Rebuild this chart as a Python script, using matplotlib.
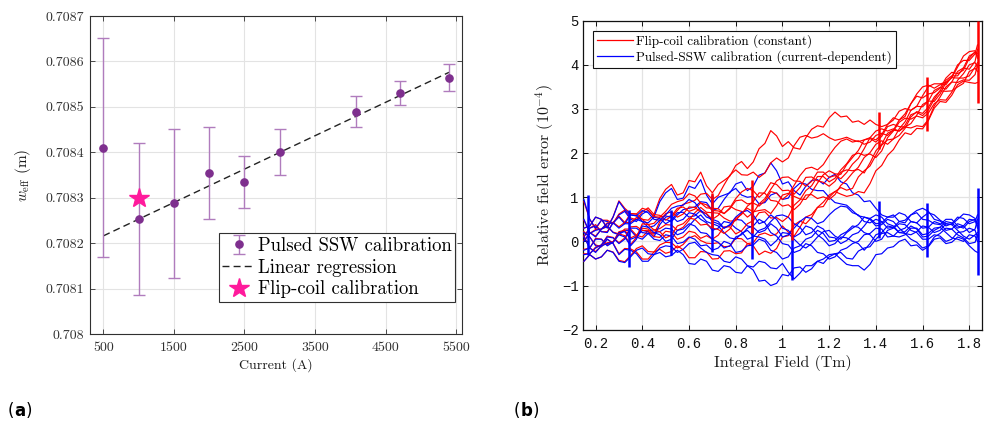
import numpy as np
import matplotlib
matplotlib.use('Agg')
import matplotlib.pyplot as plt
from matplotlib.lines import Line2D
from matplotlib.offsetbox import TextArea, HPacker, AnchoredOffsetbox

plt.rcParams['mathtext.fontset'] = 'cm'
plt.rcParams['axes.unicode_minus'] = True

# ---------------- panel (a) data ----------------
current = [500, 1000, 1500, 2000, 2500, 3000, 4075, 4700, 5400]
w_eff = [0.708410, 0.708253, 0.708288, 0.708355, 0.708335, 0.708401, 0.708489, 0.708530, 0.708564]
w_hi = [0.708651, 0.708420, 0.708451, 0.708456, 0.708392, 0.708452, 0.708523, 0.708556, 0.708595]
w_lo = [0.708170, 0.708086, 0.708124, 0.708253, 0.708277, 0.708350, 0.708455, 0.708504, 0.708534]
reg_current = [500, 5400]
reg_w = [0.708216, 0.708576]
flip_current = [1000]
flip_w = [0.70830]
a_xticks = [500, 1500, 2500, 3500, 4500, 5500]
a_yticks = [0.708, 0.7081, 0.7082, 0.7083, 0.7084, 0.7085, 0.7086, 0.7087]
a_yticklabels = ['0.708', '0.7081', '0.7082', '0.7083', '0.7084', '0.7085', '0.7086', '0.7087']

# ---------------- panel (b) data ----------------
field = [0.150, 0.175, 0.200, 0.225, 0.250, 0.275, 0.300, 0.325, 0.350, 0.375,
         0.400, 0.425, 0.450, 0.475, 0.500, 0.525, 0.550, 0.575, 0.600, 0.625,
         0.650, 0.675, 0.700, 0.725, 0.750, 0.775, 0.800, 0.825, 0.850, 0.875,
         0.900, 0.925, 0.950, 0.975, 1.000, 1.025, 1.050, 1.075, 1.100, 1.125,
         1.150, 1.175, 1.200, 1.225, 1.250, 1.275, 1.300, 1.325, 1.350, 1.375,
         1.400, 1.425, 1.450, 1.475, 1.500, 1.525, 1.550, 1.575, 1.600, 1.625,
         1.650, 1.675, 1.700, 1.725, 1.750, 1.775, 1.800, 1.825, 1.835]

blue_1 = [0.95,0.50, 0.30,0.48, 0.45,0.40, 0.60,0.68, 0.50,0.45, 0.62,0.70, 0.55,0.90, 1.10,1.20, 0.95,0.98, 1.25,1.20, 1.40,1.05, 0.85,1.00, 1.05,1.10, 1.30,1.35, 1.15,1.25, 1.50,1.55, 1.78,1.60, 1.30,1.35, 1.15,1.05, 1.25,1.38, 1.40,1.30, 1.45,1.52, 1.35,1.30, 1.10,1.05, 0.90,0.92, 0.75,0.60, 0.55,0.60, 0.45,0.42, 0.60,0.65, 0.50,0.48, 0.40,0.38, 0.50,0.50, 0.35,0.30, 0.45,0.50, 0.30]
blue_2 = [0.10,0.30, 0.35,0.22, 0.20,0.42, 0.55,0.40, 0.40,0.50, 0.45,0.32, 0.35,0.48, 0.50,0.45, 0.60,0.72, 0.75,0.78, 0.90,0.88, 0.70,0.75, 0.95,1.12, 1.20,1.05, 1.00,1.02, 0.85,0.88, 1.05,1.10, 0.95,0.98, 1.20,1.32, 1.30,1.18, 1.15,1.15, 1.00,0.88, 0.85,0.82, 0.70,0.58, 0.55,0.52, 0.40,0.42, 0.55,0.55, 0.65,0.60, 0.45,0.42, 0.55,0.65, 0.60,0.48, 0.40,0.38, 0.50,0.62, 0.60,0.52, 0.40]
blue_3 = [0.20,0.10, -0.10,-0.12, 0.05,-0.05, -0.30,-0.18, -0.20,-0.28, -0.45,-0.45, -0.30,-0.25, -0.35,-0.32, -0.20,-0.30, -0.50,-0.52, -0.40,-0.45, -0.65,-0.68, -0.55,-0.58, -0.70,-0.72, -0.55,-0.65, -0.90,-0.88, -1.00,-0.95, -0.75,-0.78, -0.60,-0.58, -0.70,-0.62, -0.45,-0.50, -0.35,-0.28, -0.25,-0.38, -0.40,-0.22, -0.15,-0.12, 0.05,0.18, 0.20,0.12, 0.10,0.15, 0.30,0.30, 0.15,0.18, 0.30,0.32, 0.20,0.08, 0.05,0.00, 0.15,0.12, 0.00]
blue_4 = [-0.45,-0.30, -0.40,-0.35, -0.20,-0.25, -0.45,-0.48, -0.35,-0.20, -0.15,-0.28, -0.30,-0.15, -0.10,-0.12, -0.25,-0.18, -0.05,-0.02, -0.15,-0.25, -0.30,-0.32, -0.45,-0.48, -0.35,-0.40, -0.55,-0.58, -0.45,-0.48, -0.60,-0.62, -0.50,-0.70, -0.85,-0.72, -0.55,-0.55, -0.45,-0.40, -0.30,-0.28, -0.40,-0.52, -0.55,-0.55, -0.65,-0.52, -0.30,-0.28, -0.15,-0.12, 0.00,0.05, -0.10,-0.08, -0.20,-0.12, 0.05,0.08, -0.05,-0.02, 0.10,0.05, -0.10,-0.22, -0.25]
blue_5 = [0.00,0.18, 0.25,0.28, 0.40,0.42, 0.30,0.40, 0.60,0.58, 0.45,0.42, 0.55,0.52, 0.40,0.48, 0.65,0.66, 0.55,0.58, 0.70,0.62, 0.45,0.40, 0.30,0.36, 0.50,0.48, 0.35,0.32, 0.20,0.25, 0.40,0.30, 0.10,0.15, 0.30,0.45, 0.55,0.52, 0.40,0.45, 0.60,0.72, 0.80,0.78, 0.65,0.60, 0.45,0.42, 0.50,0.45, 0.30,0.32, 0.45,0.48, 0.60,0.70, 0.75,0.68, 0.50,0.46, 0.35,0.40, 0.55,0.52, 0.40,0.45, 0.60]
blue_6 = [0.50,0.20, 0.10,0.28, 0.35,0.20, 0.15,0.25, 0.25,0.10, 0.05,0.18, 0.20,0.22, 0.30,0.28, 0.15,0.20, 0.35,0.50, 0.60,0.45, 0.40,0.35, 0.20,0.08, 0.05,0.18, 0.25,0.12, 0.10,0.05, -0.10,0.02, 0.20,0.18, 0.05,-0.08, -0.15,-0.05, 0.10,0.22, 0.25,0.12, 0.05,0.20, 0.30,0.38, 0.55,0.50, 0.35,0.38, 0.50,0.45, 0.30,0.18, 0.15,0.22, 0.35,0.32, 0.20,0.25, 0.40,0.38, 0.25,0.12, 0.05,0.15, 0.20]
blue_7 = [-0.20,-0.15, 0.05,0.05, -0.10,-0.02, 0.20,0.22, 0.05,0.10, 0.25,0.22, 0.10,0.38, 0.55,0.58, 0.45,0.50, 0.65,0.62, 0.50,0.42, 0.25,0.30, 0.45,0.42, 0.30,0.22, 0.05,0.10, 0.25,0.30, 0.45,0.58, 0.60,0.55, 0.40,0.32, 0.15,0.20, 0.35,0.28, 0.10,0.08, -0.05,0.02, 0.15,0.20, 0.35,0.52, 0.60,0.55, 0.40,0.35, 0.20,0.22, 0.35,0.28, 0.10,0.12, 0.25,0.32, 0.45,0.42, 0.30,0.35, 0.50,0.48, 0.35]
blue_8 = [-0.30,-0.28, -0.15,-0.08, 0.10,0.08, -0.05,0.05, 0.30,0.30, 0.20,0.18, 0.05,0.02, 0.15,0.12, -0.05,-0.02, 0.10,0.05, -0.10,-0.08, -0.20,-0.15, 0.00,-0.05, -0.25,-0.22, -0.10,-0.08, 0.05,0.00, -0.20,-0.25, -0.40,-0.35, -0.15,-0.10, 0.05,0.10, 0.25,0.18, 0.00,0.02, 0.15,0.22, 0.35,0.32, 0.20,0.15, 0.00,0.05, 0.25,0.30, 0.40,0.38, 0.25,0.20, 0.05,0.05, 0.15,0.12, 0.00,0.05, 0.20,0.22, 0.30,0.25, 0.10]
blue_9 = [0.30,0.35, 0.55,0.50, 0.30,0.55, 0.90,0.72, 0.60,0.58, 0.70,0.65, 0.50,0.48, 0.60,0.75, 0.80,0.82, 0.95,0.88, 0.70,0.55, 0.50,0.45, 0.30,0.38, 0.55,0.66, 0.70,0.60, 0.40,0.45, 0.60,0.50, 0.30,0.25, 0.10,0.18, 0.35,0.30, 0.15,0.05, -0.10,-0.05, 0.10,0.08, 0.00,-0.05, -0.20,-0.05, 0.15,0.20, 0.35,0.32, 0.20,0.18, 0.05,-0.02, -0.15,-0.10, 0.10,0.18, 0.30,0.28, 0.15,0.08, -0.05,-0.02, 0.15]
blue_10 = [0.10,-0.15, -0.25,-0.10, -0.05,-0.02, 0.15,0.10, -0.10,0.05, 0.35,0.32, 0.20,0.15, 0.00,0.05, 0.25,0.28, 0.40,0.35, 0.20,0.18, 0.05,-0.02, -0.15,-0.10, 0.10,0.15, 0.30,0.35, 0.50,0.42, 0.20,0.12, -0.05,-0.08, -0.25,-0.20, -0.05,-0.10, -0.25,-0.28, -0.40,-0.35, -0.20,-0.15, -0.05,0.00, 0.15,0.18, 0.30,0.28, 0.10,0.12, 0.25,0.30, 0.45,0.42, 0.30,0.32, 0.45,0.40, 0.25,0.28, 0.40,0.35, 0.20,0.28, 0.50]

red_1 = [0.90,0.50, 0.28,0.48, 0.48,0.41, 0.62,0.71, 0.53,0.49, 0.67,0.76, 0.61,0.97, 1.18,1.29, 1.05,1.10, 1.38,1.35, 1.57,1.26, 1.10,1.29, 1.38,1.48, 1.72,1.81, 1.65,1.80, 2.10,2.22, 2.51,2.39, 2.15,2.26, 2.12,2.09, 2.35,2.54, 2.62,2.59, 2.80,2.93, 2.82,2.84, 2.70,2.73, 2.65,2.75, 2.65,2.60, 2.65,2.80, 2.75,2.83, 3.12,3.29, 3.25,3.34, 3.37,3.47, 3.70,3.83, 3.80,3.88, 4.15,4.30, 4.15]
red_2 = [0.12,0.30, 0.38,0.22, 0.22,0.43, 0.57,0.43, 0.43,0.54, 0.50,0.38, 0.41,0.55, 0.58,0.54, 0.70,0.84, 0.88,0.93, 1.07,1.09, 0.95,1.04, 1.28,1.50, 1.62,1.51, 1.50,1.57, 1.45,1.55, 1.78,1.89, 1.80,1.89, 2.17,2.36, 2.40,2.34, 2.37,2.44, 2.35,2.29, 2.32,2.36, 2.30,2.26, 2.30,2.35, 2.30,2.42, 2.65,2.75, 2.95,3.01, 2.97,3.06, 3.30,3.51, 3.57,3.57, 3.60,3.71, 3.95,4.20, 4.30,4.32, 4.25]
red_3 = [0.22,0.10, -0.08,-0.12, 0.05,-0.04, -0.28,-0.16, -0.17,-0.24, -0.40,-0.40, -0.24,-0.18, -0.27,-0.23, -0.10,-0.19, -0.37,-0.37, -0.23,-0.24, -0.40,-0.39, -0.22,-0.21, -0.28,-0.26, -0.05,-0.10, -0.30,-0.22, -0.27,-0.16, 0.10,0.13, 0.37,0.46, 0.40,0.54, 0.77,0.79, 1.00,1.13, 1.22,1.16, 1.20,1.46, 1.60,1.71, 1.95,2.18, 2.30,2.32, 2.40,2.56, 2.82,2.94, 2.90,3.04, 3.27,3.41, 3.40,3.41, 3.50,3.58, 3.85,3.92, 3.85]
red_4 = [-0.45,-0.30, -0.40,-0.35, -0.20,-0.24, -0.43,-0.46, -0.32,-0.16, -0.10,-0.23, -0.24,-0.08, -0.02,-0.03, -0.15,-0.07, 0.08,0.13, 0.02,-0.04, -0.05,-0.03, -0.12,-0.11, 0.07,0.06, -0.05,-0.03, 0.15,0.19, 0.13,0.17, 0.35,0.21, 0.12,0.32, 0.55,0.61, 0.77,0.89, 1.05,1.13, 1.07,1.02, 1.05,1.13, 1.10,1.31, 1.60,1.72, 1.95,2.08, 2.30,2.46, 2.42,2.56, 2.55,2.74, 3.02,3.17, 3.15,3.31, 3.55,3.63, 3.60,3.58, 3.60]
red_5 = [0.02,0.18, 0.27,0.28, 0.42,0.43, 0.33,0.43, 0.63,0.62, 0.50,0.48, 0.61,0.59, 0.48,0.57, 0.75,0.78, 0.68,0.73, 0.87,0.83, 0.70,0.69, 0.63,0.74, 0.92,0.94, 0.85,0.87, 0.80,0.92, 1.13,1.09, 0.95,1.06, 1.27,1.49, 1.65,1.68, 1.62,1.74, 1.95,2.13, 2.27,2.32, 2.25,2.28, 2.20,2.25, 2.40,2.45, 2.40,2.52, 2.75,2.89, 3.12,3.34, 3.50,3.54, 3.47,3.55, 3.55,3.73, 4.00,4.10, 4.10,4.25, 4.45]
red_6 = [0.48,0.20, 0.12,0.28, 0.33,0.21, 0.17,0.28, 0.28,0.14, 0.10,0.24, 0.26,0.29, 0.38,0.37, 0.25,0.32, 0.48,0.65, 0.77,0.66, 0.65,0.64, 0.53,0.46, 0.47,0.64, 0.75,0.67, 0.70,0.72, 0.63,0.81, 1.05,1.09, 1.02,0.96, 0.95,1.11, 1.32,1.51, 1.60,1.53, 1.52,1.74, 1.90,2.06, 2.30,2.33, 2.25,2.38, 2.60,2.65, 2.60,2.59, 2.67,2.86, 3.10,3.18, 3.17,3.34, 3.60,3.71, 3.70,3.70, 3.75,3.95, 4.05]
red_7 = [-0.18,-0.15, 0.07,0.05, -0.08,-0.01, 0.22,0.25, 0.08,0.14, 0.30,0.28, 0.16,0.45, 0.63,0.67, 0.55,0.62, 0.78,0.77, 0.67,0.63, 0.50,0.59, 0.78,0.80, 0.72,0.68, 0.55,0.65, 0.85,0.97, 1.18,1.37, 1.45,1.46, 1.37,1.36, 1.25,1.36, 1.57,1.57, 1.45,1.49, 1.42,1.56, 1.75,1.88, 2.10,2.35, 2.50,2.55, 2.50,2.55, 2.50,2.63, 2.87,2.92, 2.85,2.98, 3.22,3.41, 3.65,3.75, 3.75,3.93, 4.20,4.28, 4.20]
red_8 = [-0.28,-0.28, -0.13,-0.08, 0.12,0.09, -0.03,0.08, 0.33,0.34, 0.25,0.24, 0.11,0.09, 0.23,0.21, 0.05,0.10, 0.23,0.20, 0.07,0.13, 0.05,0.14, 0.33,0.33, 0.17,0.24, 0.40,0.47, 0.65,0.67, 0.53,0.54, 0.45,0.56, 0.82,0.94, 1.15,1.26, 1.47,1.47, 1.35,1.43, 1.62,1.76, 1.95,2.00, 1.95,1.98, 1.90,2.05, 2.35,2.50, 2.70,2.79, 2.77,2.84, 2.80,2.91, 3.12,3.21, 3.20,3.38, 3.65,3.80, 4.00,4.05, 3.95]
red_9 = [0.30,0.35, 0.55,0.50, 0.32,0.56, 0.92,0.75, 0.63,0.62, 0.75,0.71, 0.56,0.55, 0.68,0.84, 0.90,0.94, 1.08,1.03, 0.87,0.76, 0.75,0.74, 0.63,0.76, 0.97,1.12, 1.20,1.15, 1.00,1.12, 1.33,1.29, 1.15,1.16, 1.07,1.22, 1.45,1.46, 1.37,1.34, 1.25,1.36, 1.57,1.62, 1.60,1.63, 1.55,1.78, 2.05,2.20, 2.45,2.52, 2.50,2.59, 2.57,2.62, 2.60,2.76, 3.07,3.27, 3.50,3.61, 3.60,3.66, 3.65,3.78, 4.00]
red_10 = [0.12,-0.15, -0.23,-0.10, -0.03,-0.01, 0.17,0.13, -0.07,0.09, 0.40,0.38, 0.26,0.22, 0.08,0.14, 0.35,0.40, 0.53,0.50, 0.37,0.39, 0.30,0.27, 0.18,0.28, 0.52,0.61, 0.80,0.90, 1.10,1.09, 0.93,0.91, 0.80,0.83, 0.72,0.84, 1.05,1.06, 0.97,1.01, 0.95,1.06, 1.27,1.39, 1.55,1.68, 1.90,2.01, 2.20,2.28, 2.20,2.32, 2.55,2.71, 2.97,3.06, 3.05,3.18, 3.42,3.49, 3.45,3.61, 3.85,3.93, 3.90,4.08, 4.35]

blue_curves = [blue_1, blue_2, blue_3, blue_4, blue_5, blue_6, blue_7, blue_8, blue_9, blue_10]
red_curves = [red_1, red_2, red_3, red_4, red_5, red_6, red_7, red_8, red_9, red_10]

# step transients (vertical spikes)
blue_spike_x = [0.167, 0.344, 0.521, 0.697, 0.868, 1.042, 1.413, 1.617, 1.836]
blue_spike_lo = [-0.30, -0.59, -0.31, -0.23, -0.39, -0.88, 0.07, -0.35, -0.76]
blue_spike_hi = [1.05, 0.71, 0.71, 1.05, 0.65, 0.14, 0.92, 0.87, 1.20]
red_spike_x = [0.697, 0.868, 1.042, 1.413, 1.617, 1.836]
red_spike_lo = [0.30, 0.19, 0.04, 2.10, 2.49, 3.13]
red_spike_hi = [1.10, 1.40, 1.20, 2.94, 3.73, 5.00]

b_xticks = [0.2, 0.4, 0.6, 0.8, 1.0, 1.2, 1.4, 1.6, 1.8]
b_xticklabels = ['0.2', '0.4', '0.6', '0.8', '1', '1.2', '1.4', '1.6', '1.8']
b_yticks = [-2, -1, 0, 1, 2, 3, 4, 5]
b_yticklabels = ['\u22122', '\u22121', '0', '1', '2', '3', '4', '5']

# ---------------- figure ----------------
fig = plt.figure(figsize=(9.95, 4.23), dpi=100)
SERIF = 'cmr10'
MONO = 'Liberation Mono'
TICKC = '#404040'
LABC = '#1a1a1a'
GRIDC = '#e3e3e3'

# ----- panel (a)
ax1 = fig.add_axes([0.0905, 0.2104, 0.3739, 0.7518])
ax1.set_xlim(311, 5585)
ax1.set_ylim(0.708, 0.7087)
ax1.set_xticks(a_xticks)
ax1.set_xticklabels([str(t) for t in a_xticks], fontfamily=SERIF, fontsize=10, color=TICKC)
ax1.set_yticks(a_yticks)
ax1.set_yticklabels(a_yticklabels, fontfamily=SERIF, fontsize=10, color=TICKC)
ax1.grid(True, color=GRIDC, linewidth=0.8)
ax1.set_axisbelow(True)
ax1.tick_params(direction='in', length=3.5, width=0.6, top=True, right=True, colors='#303030')
ax1.tick_params(axis='x', pad=6)
ax1.tick_params(axis='y', pad=4)
for s in ax1.spines.values():
    s.set_color('#303030')
    s.set_linewidth(0.8)

yerr = [np.array(w_eff) - np.array(w_lo), np.array(w_hi) - np.array(w_eff)]
eb = ax1.errorbar(current, w_eff, yerr=yerr, fmt='o', color='#7E2F8E', ms=5.2,
                  ecolor='#b07cbd', elinewidth=1.0, capsize=4, capthick=1.0,
                  label='Pulsed SSW calibration', zorder=3)
reg, = ax1.plot(reg_current, reg_w, linestyle=(0, (5, 3)), color='#222222', lw=1.0,
                label='Linear regression', zorder=2)
star, = ax1.plot(flip_current, flip_w, linestyle='none', marker='*', color='#ff1a9c',
                 ms=15, label='Flip-coil calibration', zorder=4)
leg1 = ax1.legend(handles=[eb, reg, star], loc='lower right', bbox_to_anchor=(0.982, 0.10),
                  borderaxespad=0, prop={'family': SERIF, 'size': 13.5}, fancybox=False,
                  framealpha=1, edgecolor='#303030', handlelength=1.75, handletextpad=0.15,
                  borderpad=0.2, labelspacing=0.2)
leg1.get_frame().set_linewidth(0.8)
ax1.set_xlabel('Current (A)', fontfamily=SERIF, fontsize=10, color=LABC, labelpad=3)
ax1.set_ylabel(r'$w_{\mathrm{eff}}$ (m)', fontfamily=SERIF, fontsize=11, color=LABC, labelpad=9)

# ----- panel (b)
ax2 = fig.add_axes([0.5859, 0.2206, 0.4007, 0.7305])
for r, b in zip(red_curves, blue_curves):
    ax2.plot(field, r, color='#ff0000', lw=0.85, zorder=3)
    ax2.plot(field, b, color='#0000ff', lw=0.85, zorder=3)
ax2.vlines(blue_spike_x, blue_spike_lo, blue_spike_hi, colors='#0000ff', lw=1.8, zorder=4)
ax2.vlines(red_spike_x, red_spike_lo, red_spike_hi, colors='#ff0000', lw=1.8, zorder=4)
ax2.set_xlim(0.146, 1.853)
ax2.set_ylim(-2, 5)
ax2.set_xticks(b_xticks)
ax2.set_xticklabels(b_xticklabels, fontfamily=MONO, fontsize=10, color='#555555')
ax2.set_yticks(b_yticks)
ax2.set_yticklabels(b_yticklabels, fontfamily=MONO, fontsize=10, color='#555555')
ax2.grid(True, color=GRIDC, linewidth=0.9)
ax2.set_axisbelow(True)
ax2.tick_params(direction='in', length=3.5, width=0.7, top=True, right=True, colors='#111111')
ax2.tick_params(axis='x', pad=5)
ax2.tick_params(axis='y', pad=3)
for s in ax2.spines.values():
    s.set_color('#111111')
    s.set_linewidth(0.9)
handles2 = [Line2D([], [], color='#ff0000', lw=0.9), Line2D([], [], color='#0000ff', lw=0.9)]
leg2 = ax2.legend(handles2, ['Flip-coil calibration (constant)',
                             'Pulsed-SSW calibration (current-dependent)'],
                  loc='upper left', bbox_to_anchor=(0.025, 0.968), borderaxespad=0,
                  prop={'family': SERIF, 'size': 9.5}, fancybox=False, framealpha=1,
                  edgecolor='#111111', handlelength=2.7, handletextpad=0.3,
                  borderpad=0.3, labelspacing=0.15)
leg2.get_frame().set_linewidth(0.8)
leg2.set_zorder(10)
ax2.set_xlabel('Integral Field (Tm)', fontfamily=SERIF, fontsize=11.5, color=LABC, labelpad=3)
ax2.set_ylabel(r'Relative field error ($10^{-4}$)', fontfamily=SERIF, fontsize=11.5,
               color=LABC, labelpad=4)

# ----- panel letters
def panel_letter(letter, x, y):
    parts = [TextArea('(', textprops=dict(fontsize=12, family='DejaVu Sans')),
             TextArea(letter, textprops=dict(fontsize=12, family='DejaVu Sans', weight='bold')),
             TextArea(')', textprops=dict(fontsize=12, family='DejaVu Sans'))]
    box = HPacker(children=parts, align='baseline', pad=0, sep=0)
    anc = AnchoredOffsetbox(loc='lower left', child=box, pad=0, borderpad=0, frameon=False,
                            bbox_to_anchor=(x, y), bbox_transform=fig.transFigure)
    fig.add_artist(anc)

panel_letter('a', 8 / 995, 3 / 423)
panel_letter('b', 514 / 995, 3 / 423)

fig.savefig('out.png', dpi=100)
